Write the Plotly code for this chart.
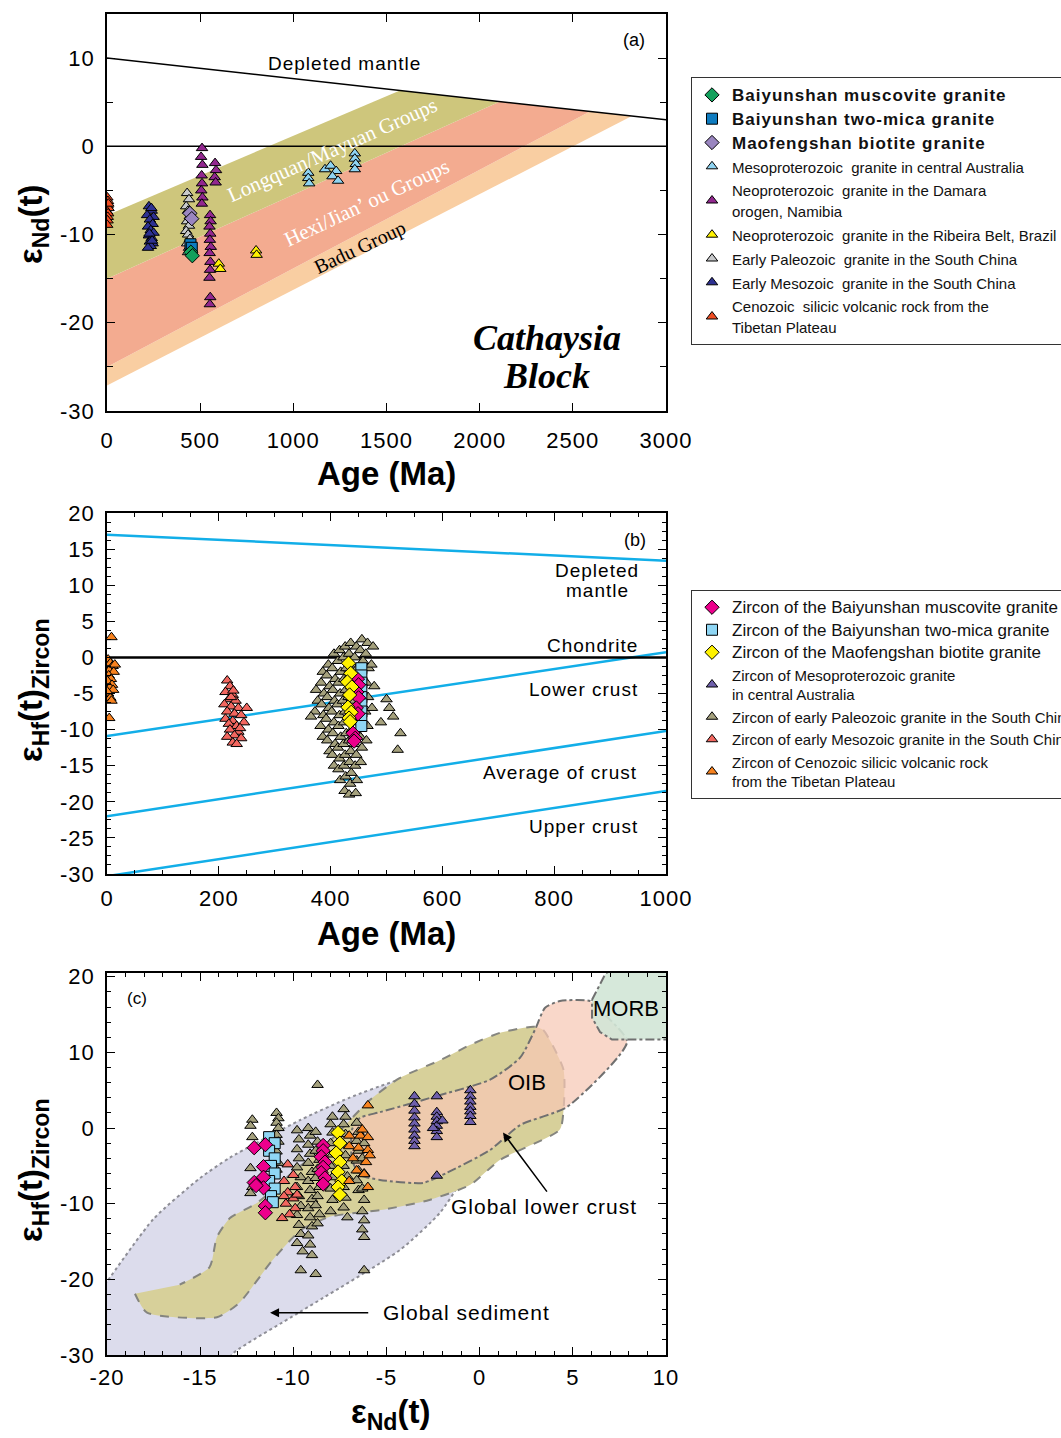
import plotly.graph_objects as go

# ================= Panel (a): eNd(t) vs Age =================
a_dm_age = [0, 3000]
a_dm_eps = [10, 3]
a_chur_age = [0, 3000]
a_chur_eps = [0, 0]
band_lm_age = [0, 1572, 2109, 0]
band_lm_eps = [-7.8, 6.33, 5.08, -15]
band_hj_age = [0, 2109, 2592, 0]
band_hj_eps = [-15, 5.08, 3.95, -25]
band_badu_age = [0, 2592, 2817, 0]
band_badu_eps = [-25, 3.95, 3.43, -27.1]

a_cen_age = [2, 5, 3, 8, 1, 6, 4, 3, 7, 1]
a_cen_eps = [-5.8, -6.2, -6.7, -7.0, -7.4, -7.6, -8.0, -8.4, -6.5, -8.9]
a_meso_age = [225, 240, 215, 250, 230, 245, 220, 235, 250, 225, 240, 230, 245, 235, 220, 238, 228, 242]
a_meso_eps = [-6.8, -7.3, -7.8, -8.0, -8.3, -8.8, -9.1, -9.5, -9.8, -10.1, -10.4, -10.8, -11.0, -11.3, -11.5, -7.0, -9.9, -10.7]
a_paleo_age = [430, 440, 425, 435, 445, 430, 440, 425, 435, 445, 430, 440, 435]
a_paleo_eps = [-5.3, -6.0, -6.8, -7.3, -7.9, -8.5, -9.0, -9.6, -10.0, -10.5, -11.0, -11.5, -12.0]
a_mao_age = [445, 455]
a_mao_eps = [-7.6, -8.2]
a_twomica_age = [448, 455]
a_twomica_eps = [-11.1, -11.5]
a_musc_age = [450, 458]
a_musc_eps = [-12.0, -12.4]
a_damara_age = [510, 505, 512, 508, 510, 506, 512, 509, 580, 585, 578, 583,
                553, 556, 550, 554, 552, 557, 551, 555, 553, 550, 554, 552]
a_damara_eps = [-0.2, -1.2, -2.1, -3.3, -4.2, -5.0, -5.8, -6.5, -1.9, -2.7, -3.5, -4.1,
                -7.8, -8.5, -9.1, -9.9, -10.6, -11.4, -12.1, -13.1, -14.0, -14.9, -17.1, -17.9]
a_ribeira_age = [600, 608, 800, 803]
a_ribeira_eps = [-13.3, -13.9, -11.8, -12.3]
a_mesoprot_age = [1080, 1080, 1085, 1170, 1200, 1230, 1210, 1240, 1330, 1330, 1335, 1330]
a_mesoprot_eps = [-3.0, -3.6, -4.2, -2.6, -2.2, -2.8, -3.4, -3.9, -0.8, -1.4, -2.0, -2.6]

a_xtick_vals = [0, 500, 1000, 1500, 2000, 2500, 3000]
a_xtick_text = ["0", "500", "1000", "1500", "2000", "2500", "3000"]
a_ytick_vals = [-30, -20, -10, 0, 10]
a_ytick_text = ["-30", "-20", "-10", "0", "10"]

# ================= Panel (b): eHf(t) vs Age =================
b_line_age = [0, 1000]
b_dm_eps = [17.0, 13.4]
b_chur_eps = [0, 0]
b_lc_eps = [-10.9, 0.7]
b_avg_eps = [-22.0, -10.2]
b_uc_eps = [-30.3, -18.5]

b_cen_age = [8, 2, 6, 10, 4, 12, 3, 7, 1, 9, 5, 11, 2, 6, 8, 4, 14, 0]
b_cen_eps = [2.8, -0.3, -0.8, -1.2, -1.8, -2.0, -2.5, -3.0, -3.3, -3.8, -4.2, -4.5, -5.0, -5.6, -6.0, -8.4, -1.0, -4.7]
b_meso_age = [215, 220, 212, 225, 218, 230, 210, 222, 235, 215, 228, 240, 212, 225,
              218, 232, 245, 220, 235, 228, 215, 240, 225, 232, 250, 222, 238, 226]
b_meso_eps = [-3.2, -4.0, -4.8, -5.2, -5.8, -6.0, -6.5, -6.8, -7.0, -7.5, -7.8, -8.0, -8.5, -8.8,
              -9.2, -9.5, -9.0, -10.0, -10.3, -10.8, -11.0, -11.2, -11.8, -12.0, -7.0, -5.5, -9.8, -4.6]
b_paleo_age = [
    374, 377, 372,
    386, 383, 388, 384, 387, 382, 386,
    396, 393, 398, 394, 397, 392, 396, 394, 398,
    406, 403, 408, 404, 407, 402, 406, 404, 408, 403, 406,
    416, 413, 418, 414, 417, 412, 416, 414, 418, 413, 416, 414, 417,
    426, 423, 428, 424, 427, 422, 426, 424, 428, 423, 426, 424, 427, 425,
    436, 433, 438, 434, 437, 432, 436, 434, 438, 433, 436, 434, 437, 435, 433,
    446, 443, 448, 444, 447, 442, 446, 444, 448, 443, 446, 444, 447, 445,
    456, 453, 458, 454, 457, 452, 456, 454, 458, 453, 456, 454,
    466, 463, 468, 464, 467, 462, 466, 464,
    476, 473, 478, 474,
    500, 505, 512, 525, 520, 490, 365]
b_paleo_eps = [
    -4.5, -6.0, -7.5,
    -2.0, -3.5, -5.0, -6.5, -8.0, -9.5, -11.0,
    -1.0, -2.5, -4.0, -5.5, -7.0, -8.5, -10.0, -11.5, -13.0,
    0.5, -1.5, -3.0, -4.5, -6.0, -7.5, -9.0, -10.5, -12.0, -13.5, -15.0,
    1.0, -0.5, -2.0, -3.5, -5.0, -6.5, -8.0, -9.5, -11.0, -12.5, -14.0, -15.5, -17.0,
    1.5, 0.0, -1.5, -3.0, -4.5, -6.0, -7.5, -9.0, -10.5, -12.0, -13.5, -15.0, -16.5, -18.5,
    2.0, 0.5, -1.0, -2.5, -4.0, -5.5, -7.0, -8.5, -10.0, -11.5, -13.0, -14.5, -16.0, -17.5, -19.0,
    1.5, 0.0, -1.5, -3.0, -4.5, -6.0, -7.5, -9.0, -10.5, -12.0, -13.5, -15.0, -17.0, -18.8,
    2.5, 1.0, -0.5, -2.0, -3.5, -5.0, -6.5, -8.0, -9.5, -11.0, -12.5, -14.5,
    2.0, 0.5, -1.5, -3.5, -5.5, -7.5, -9.5, -11.5,
    1.5, -1.0, -4.0, -7.0,
    -5.8, -7.0, -8.2, -10.5, -12.8, -9.0, -8.2]
b_twomica_age = [455, 455, 455, 455, 455, 455, 455, 455, 455]
b_twomica_eps = [-1.5, -2.5, -3.5, -4.5, -5.5, -6.5, -7.5, -8.5, -9.5]
b_musc_age = [448, 450, 447, 450, 446, 449, 440, 444, 442]
b_musc_eps = [-3.0, -3.8, -4.8, -5.6, -7.0, -7.8, -10.5, -11.2, -11.6]
b_mao_age = [432, 436, 430, 438, 434, 431, 437, 433, 435]
b_mao_eps = [-0.8, -2.2, -3.4, -4.1, -5.2, -6.9, -7.6, -8.4, -8.9]

b_xtick_vals = [0, 200, 400, 600, 800, 1000]
b_xtick_text = ["0", "200", "400", "600", "800", "1000"]
b_ytick_vals = [-30, -25, -20, -15, -10, -5, 0, 5, 10, 15, 20]
b_ytick_text = ["-30", "-25", "-20", "-15", "-10", "-5", "0", "5", "10", "15", "20"]

# ================= Panel (c): eHf(t) vs eNd(t) =================
sed_nd = [-20.5, -20.0, -17.5, -15.0, -13.4, -9.6, -7.0, -4.8, -3.2, -1.6, -0.95, -0.8,
          -1.16, -2.13, -4.27, -9.64, -13.2, -13.8, -20.5]
sed_hf = [-22.0, -20.3, -12.0, -6.6, -3.9, 1.1, 4.0, 6.0, 7.0, 5.7, 2.4, -2.9,
          -7.5, -11.2, -16.1, -24.3, -29.7, -31.5, -31.5]
lc_nd = [-18.5, -17.85, -14.1, -12.9, -11.1, -9.6, -8.0, -5.2, -2.7, -0.5, 1.1, 4.3, 4.5, 4.5,
         3.4, 2.9, 1.1, -0.5, -2.1, -4.3, -5.9, -8.0, -10.2, -11.95, -13.4, -14.1, -14.5, -16.1]
lc_hf = [-21.9, -24.4, -25.0, -23.1, -17.4, -13.5, -11.7, -10.8, -9.5, -7.5, -4.2, -0.2, 2.4, 7.7,
         13.0, 13.4, 12.6, 11.0, 9.0, 6.6, 3.7, -1.6, -6.2, -9.9, -11.9, -14.4, -18.4, -20.7]
oib_nd = [-6.85, -6.85, -6.42, -5.35, -3.04, -1.75, 0.56, 2.17, 4.69, 7.91, 6.46, 5.92,
          4.31, 3.51, 2.97, 2.17, 0.56, -2.5, -5.35, -6.42, -6.85]
oib_hf = [-0.2, -4.2, -6.2, -6.85, -7.25, -5.9, -2.9, 0.4, 2.8, 11.4, 15.6, 16.8,
          16.8, 15.9, 13.0, 9.3, 6.4, 4.1, 2.1, 1.35, -0.2]
morb_nd = [6.03, 6.73, 7.1, 10.6, 10.6, 7.1, 6.46, 6.03, 6.03]
morb_hf = [16.96, 20.3, 21.2, 21.2, 11.7, 11.7, 12.7, 14.6, 16.96]

c_paleo_nd = [
    -12.2, -12.3, -12.2, -12.3, -12.2, -12.3,
    -10.9, -10.8, -10.9, -10.8, -10.9, -10.8, -10.9, -10.8, -10.9,
    -9.8, -9.7, -9.8, -9.7, -9.8, -9.6, -9.8, -9.7, -9.6, -9.8, -9.7, -9.6, -9.8, -9.5, -9.6,
    -9.2, -9.1, -9.2, -9.1, -9.2, -9.0, -9.2, -9.1, -9.0, -9.2, -9.1, -9.0, -9.2, -9.1, -9.0, -8.8,
    -8.7, -8.8, -8.7, -8.8, -8.6, -8.7, -8.8, -8.6, -8.7, -8.8, -8.6, -8.7,
    -7.9, -8.0, -7.9, -8.0, -7.9, -8.0, -7.9, -8.0, -7.9, -8.0,
    -7.3, -7.2, -7.3, -7.2, -7.3, -7.2, -7.3, -7.1, -7.3, -7.2, -7.3, -7.1,
    -6.6, -6.5, -6.6, -6.5, -6.6, -6.5, -6.6, -6.5,
    -6.2, -6.3, -6.2, -6.3, -6.2, -6.3, -6.2, -6.3, -6.2, -6.2]
c_paleo_hf = [
    1.1, 0.3, -1.2, -5.3, -7.8, -8.6,
    2.0, 1.3, 0.7, 0.0, -0.9, -1.8, -3.1, -4.6, -5.5,
    -0.3, -1.5, -2.8, -4.0, -5.2, -6.5, -7.8, -9.0, -10.3, -11.5, -12.8, -14.0, -15.2, -16.3, -18.8,
    0.0, -1.0, -2.2, -3.4, -4.6, -5.8, -7.0, -8.2, -9.4, -10.6, -11.8, -13.0, -14.2, -15.4, -16.8, -19.3,
    5.7, -0.5, -1.8, -3.0, -4.2, -5.4, -6.6, -7.8, -9.0, -10.2, -11.4, -12.6,
    1.5, 0.5, -0.6, -2.0, -3.5, -5.0, -6.5, -8.0, -9.5, -11.0,
    2.5, 1.5, 0.5, -0.8, -2.2, -3.6, -5.0, -6.4, -7.8, -9.2, -10.5, -11.8,
    0.7, -0.5, -1.7, -3.0, -4.3, -5.6, -6.9, -8.2,
    -2.0, -4.0, -6.0, -8.0, -9.5, -11.0, -12.2, -13.4, -14.4, -18.8]
c_meso_nd = [-10.3, -10.0, -10.5, -9.9, -10.3, -10.0, -10.4, -9.9, -10.2, -10.5, -9.8, -10.6]
c_meso_hf = [-4.8, -6.2, -7.0, -7.8, -8.5, -9.3, -10.0, -10.6, -11.4, -9.0, -8.8, -11.9]
c_twomica_nd = [-11.3, -11.0, -11.3, -11.0, -11.2, -11.0, -11.3, -11.0, -11.2, -11.1]
c_twomica_hf = [-1.2, -2.0, -3.0, -4.0, -5.0, -6.0, -7.0, -8.0, -9.0, -9.8]
c_musc_nd = [-12.1, -11.5, -11.6, -12.1, -11.6, -11.6, -11.5, -11.5, -12.0,
             -8.4, -8.4, -8.5, -8.3, -8.4, -8.5, -8.3, -8.4]
c_musc_hf = [-2.6, -2.2, -5.1, -7.2, -6.5, -7.9, -10.3, -11.2, -7.6,
             -2.3, -3.0, -3.8, -4.5, -5.2, -5.9, -6.6, -7.4]
c_mao_nd = [-7.6, -7.5, -7.7, -7.5, -7.6, -7.4, -7.6, -7.5]
c_mao_hf = [-0.6, -2.0, -3.3, -4.5, -5.8, -7.0, -7.8, -8.8]
c_cen_nd = [-6.0, -7.0, -6.4, -6.0, -7.0, -6.5, -6.0, -6.8, -6.1, -6.6, -6.2, -6.0, -7.0, -5.9, -6.3]
c_cen_hf = [3.0, -1.0, -1.0, -1.2, -2.4, -2.6, -2.9, -4.0, -4.5, -5.6, -6.1, -7.8, -7.0, -3.6, -0.2]
c_aus_nd = [-3.5, -3.5, -3.5, -3.5, -3.5, -3.5, -3.5, -3.5, -3.5,
            -2.3, -2.3, -2.3, -2.3, -2.3, -2.3, -2.3, -2.0, -2.5,
            -0.5, -0.5, -0.5, -0.5, -0.5, -0.5, -0.5, -2.3]
c_aus_hf = [4.2, 3.2, 2.3, 1.4, 0.6, -0.2, -1.0, -1.7, -2.4,
            4.2, 2.1, 1.5, 0.9, 0.3, -0.4, -1.2, 1.0, 0.0,
            5.0, 4.2, 3.5, 2.8, 2.2, 1.6, 0.8, -6.3]

c_xtick_vals = [-20, -15, -10, -5, 0, 5, 10]
c_xtick_text = ["-20", "-15", "-10", "-5", "0", "5", "10"]
c_ytick_vals = [-30, -20, -10, 0, 10, 20]
c_ytick_text = ["-30", "-20", "-10", "0", "10", "20"]

# ---------------- styling constants ----------------
FONT = "Liberation Sans, Arial, sans-serif"
SERIF = "Liberation Serif, Times New Roman, serif"
LS = "letter-spacing:1px"

fig = go.Figure()


def pts(x, y, xa, ya, symbol, color, size, name=None, legend=None, rank=None):
    fig.add_trace(go.Scatter(
        x=x, y=y, xaxis=xa, yaxis=ya, mode="markers",
        marker=dict(symbol=symbol, color=color, size=size,
                    line=dict(color="black", width=1)),
        name=name or "", showlegend=name is not None,
        legend=legend or "legend", legendrank=rank if rank else 1000,
        hoverinfo="skip"))


def poly(x, y, xa, ya, fill, lcolor=None, dash="solid", lw=0, shape="linear"):
    fig.add_trace(go.Scatter(
        x=x, y=y, xaxis=xa, yaxis=ya, mode="lines", fill="toself",
        fillcolor=fill, line=dict(color=lcolor or fill, width=lw, dash=dash, shape=shape,
                                  smoothing=0.6),
        showlegend=False, hoverinfo="skip"))


def line(x, y, xa, ya, color, width):
    fig.add_trace(go.Scatter(x=x, y=y, xaxis=xa, yaxis=ya, mode="lines",
                             line=dict(color=color, width=width),
                             showlegend=False, hoverinfo="skip"))


# ----- panel (a) -----
poly(band_badu_age, band_badu_eps, "x", "y", "#f9cea2")
poly(band_hj_age, band_hj_eps, "x", "y", "#f3ab90")
poly(band_lm_age, band_lm_eps, "x", "y", "#cec67c")
line(a_dm_age, a_dm_eps, "x", "y", "black", 1.5)
line(a_chur_age, a_chur_eps, "x", "y", "black", 1.5)

LEGA_SMALL = '<span style="font-size:15px">%s</span>'
LEGA_BOLD = '<b><span style="font-size:17px;%s">%s</span></b>'
pts(a_cen_age, a_cen_eps, "x", "y", "triangle-up", "#f04e23", 10,
    LEGA_SMALL % "Cenozoic  silicic volcanic rock from the<br>Tibetan Plateau", "legend", 9)
pts(a_meso_age, a_meso_eps, "x", "y", "triangle-up", "#2e3192", 10,
    LEGA_SMALL % "Early Mesozoic  granite in the South China", "legend", 8)
pts(a_paleo_age, a_paleo_eps, "x", "y", "triangle-up", "#c8c9cb", 10,
    LEGA_SMALL % "Early Paleozoic  granite in the South China", "legend", 7)
pts(a_damara_age, a_damara_eps, "x", "y", "triangle-up", "#92278f", 10,
    LEGA_SMALL % "Neoproterozoic  granite in the Damara<br>orogen, Namibia", "legend", 5)
pts(a_ribeira_age, a_ribeira_eps, "x", "y", "triangle-up", "#fff200", 10,
    LEGA_SMALL % "Neoproterozoic  granite in the Ribeira Belt, Brazil", "legend", 6)
pts(a_mesoprot_age, a_mesoprot_eps, "x", "y", "triangle-up", "#8fd4f2", 10,
    LEGA_SMALL % "Mesoproterozoic  granite in central Australia", "legend", 4)
pts(a_mao_age, a_mao_eps, "x", "y", "diamond", "#9a86c0", 11,
    LEGA_BOLD % (LS, "Maofengshan biotite granite"), "legend", 3)
pts(a_twomica_age, a_twomica_eps, "x", "y", "square", "#0f7cc0", 11,
    LEGA_BOLD % (LS, "Baiyunshan two-mica granite"), "legend", 2)
pts(a_musc_age, a_musc_eps, "x", "y", "diamond", "#13a05c", 11,
    LEGA_BOLD % (LS, "Baiyunshan muscovite granite"), "legend", 1)

# ----- panel (b) -----
BLUE = "#12aee8"
line(b_line_age, b_dm_eps, "x2", "y2", BLUE, 2.5)
line(b_line_age, b_lc_eps, "x2", "y2", BLUE, 2.5)
line(b_line_age, b_avg_eps, "x2", "y2", BLUE, 2.5)
line(b_line_age, b_uc_eps, "x2", "y2", BLUE, 2.5)
line(b_line_age, b_chur_eps, "x2", "y2", "black", 2.5)
pts(b_cen_age, b_cen_eps, "x2", "y2", "triangle-up", "#f7821f", 10)
pts(b_meso_age, b_meso_eps, "x2", "y2", "triangle-up", "#f2665f", 10)
pts(b_paleo_age, b_paleo_eps, "x2", "y2", "triangle-up", "#a5a17d", 10)
pts(b_twomica_age, b_twomica_eps, "x2", "y2", "square", "#8fd6f4", 11)
pts(b_musc_age, b_musc_eps, "x2", "y2", "diamond", "#ec008c", 11)
pts(b_mao_age, b_mao_eps, "x2", "y2", "diamond", "#fff200", 11)

# ----- panel (c) -----
poly(sed_nd, sed_hf, "x3", "y3", "#dcdcec", "#8e8e96", "dot", 2, "spline")
poly(lc_nd, lc_hf, "x3", "y3", "#d7d09a", "#85857f", "dash", 2, "spline")
poly(oib_nd, oib_hf, "x3", "y3", "rgba(247,200,180,0.72)", "#707070", "dashdot", 2, "spline")
poly(morb_nd, morb_hf, "x3", "y3", "rgba(210,230,214,0.9)", "#707070", "dashdot", 2, "linear")

LEGB_BIG = '<span style="font-size:17px">%s</span>'
pts(c_paleo_nd, c_paleo_hf, "x3", "y3", "triangle-up", "#a5a17d", 10,
    "Zircon of early Paleozoic granite in the South China", "legend2", 5)
pts(c_meso_nd, c_meso_hf, "x3", "y3", "triangle-up", "#f2665f", 10,
    "Zircon of early Mesozoic granite in the South China", "legend2", 6)
pts(c_twomica_nd, c_twomica_hf, "x3", "y3", "square", "#8fd6f4", 11,
    LEGB_BIG % "Zircon of the Baiyunshan two-mica granite", "legend2", 2)
pts(c_musc_nd, c_musc_hf, "x3", "y3", "diamond", "#ec008c", 11,
    LEGB_BIG % "Zircon of the Baiyunshan muscovite granite", "legend2", 1)
pts(c_mao_nd, c_mao_hf, "x3", "y3", "diamond", "#fff200", 11,
    LEGB_BIG % "Zircon of the Maofengshan biotite granite", "legend2", 3)
pts(c_cen_nd, c_cen_hf, "x3", "y3", "triangle-up", "#f7821f", 10,
    "Zircon of Cenozoic silicic volcanic rock<br>from the Tibetan Plateau", "legend2", 7)
pts(c_aus_nd, c_aus_hf, "x3", "y3", "triangle-up", "#6e5fab", 10,
    "Zircon of Mesoproterozoic granite<br>in central Australia", "legend2", 4)

# ---------------- layout ----------------
W, H = 1061, 1438
ML, MR, MT, MB = 107, 395, 14, 83
PH = H - MT - MB


def py(pix):
    return 1 - (pix - MT) / PH


def px(pix):
    return (pix - ML) / (W - ML - MR)


def lab(t):
    return ['<span style="letter-spacing:1px">%s</span>' % s for s in t]


axis_common = dict(showline=True, linecolor="black", linewidth=1.5, mirror="allticks",
                   ticks="inside", ticklen=8, tickwidth=1.3, tickcolor="black",
                   showgrid=False, zeroline=False, tickmode="array",
                   tickfont=dict(family=FONT, size=22, color="black"))


def minor(d, ln=4):
    return dict(tickmode="linear", tick0=0, dtick=d, ticks="inside", ticklen=ln, tickwidth=1.1,
                tickcolor="black", showgrid=False)


layout = dict(
    width=W, height=H, paper_bgcolor="white", plot_bgcolor="white",
    margin=dict(l=ML, r=MR, t=MT, b=MB, autoexpand=False),
    font=dict(family=FONT, color="black"),
    xaxis=dict(axis_common, domain=[0, 1], anchor="y", range=[0, 3000],
               tickvals=a_xtick_vals, ticktext=lab(a_xtick_text), ticklabelstandoff=9),
    yaxis=dict(axis_common, domain=[py(411), 1], anchor="x", range=[-30, 15],
               tickvals=a_ytick_vals, ticktext=lab(a_ytick_text),
               minor=minor(5, 6), ticklabelstandoff=6),
    xaxis2=dict(axis_common, domain=[0, 1], anchor="y2", range=[0, 1000],
                tickvals=b_xtick_vals, ticktext=lab(b_xtick_text),
                minor=minor(50), ticklabelstandoff=4),
    yaxis2=dict(axis_common, domain=[py(874), py(513)], anchor="x2", range=[-30, 20],
                tickvals=b_ytick_vals, ticktext=lab(b_ytick_text),
                minor=minor(1.25), ticklabelstandoff=6),
    xaxis3=dict(axis_common, domain=[0, 1], anchor="y3", range=[-20, 10],
                tickvals=c_xtick_vals, ticktext=lab(c_xtick_text),
                minor=minor(1), ticklabelstandoff=2),
    yaxis3=dict(axis_common, domain=[0, py(973)], anchor="x3", range=[-30, 20.5],
                tickvals=c_ytick_vals, ticktext=lab(c_ytick_text),
                minor=minor(2), ticklabelstandoff=6),
    legend=dict(x=px(691), y=py(77), xanchor="left", yanchor="top", bgcolor="white",
                bordercolor="#333", borderwidth=1, font=dict(family=FONT, size=16, color="#111"),
                traceorder="normal", itemwidth=30, tracegroupgap=0),
    legend2=dict(x=px(691), y=py(590), xanchor="left", yanchor="top", bgcolor="white",
                 bordercolor="#333", borderwidth=1, font=dict(family=FONT, size=15, color="#111"),
                 traceorder="normal", itemwidth=30, tracegroupgap=0),
)
fig.update_layout(**layout)

ann = []


def txt(x, y, text, xref, yref, size=20, family=FONT, color="black", angle=0):
    ann.append(dict(x=x, y=y, xref=xref, yref=yref, text=text, showarrow=False,
                    xanchor="center", yanchor="middle",
                    textangle=angle, font=dict(family=family, size=size, color=color)))


sp = lambda s: '<span style="letter-spacing:1px">%s</span>' % s

# panel (a) texts
txt(1272, 9.4, sp("Depleted mantle"), "x", "y", 19)
txt(2828, 12.0, "(a)", "x", "y", 18)
txt(1208, -0.45, "Longquan/Mayuan Groups", "x", "y", 21, SERIF, "white", -24)
txt(1390, -6.4, "Hexi/Jian\u2019 ou Groups", "x", "y", 21, SERIF, "white", -25)
txt(1358, -11.5, "Badu Group", "x", "y", 20, SERIF, "black", -25)
txt(2361, -21.7, "<b><i>Cathaysia</i></b>", "x", "y", 36, SERIF)
txt(2361, -26.0, "<b><i>Block</i></b>", "x", "y", 36, SERIF)

# panel (b) texts
txt(877, 12.0, sp("Depleted"), "x2", "y2", 19)
txt(877, 9.3, sp("mantle"), "x2", "y2", 19)
txt(945, 16.3, "(b)", "x2", "y2", 18)
txt(868, 1.6, sp("Chondrite"), "x2", "y2", 19)
txt(853, -4.5, sp("Lower crust"), "x2", "y2", 19)
txt(810, -15.9, sp("Average of crust"), "x2", "y2", 19)
txt(853, -23.4, sp("Upper crust"), "x2", "y2", 19)

# panel (c) texts
txt(-18.4, 17.1, "(c)", "x3", "y3", 17)
txt(2.54, 6.0, "OIB", "x3", "y3", 22)
txt(7.85, 15.8, "MORB", "x3", "y3", 22)
txt(3.45, -10.4, sp("Global lower crust"), "x3", "y3", 21)
txt(-0.73, -24.4, sp("Global sediment"), "x3", "y3", 21)
ann.append(dict(x=1.25, y=-0.6, xref="x3", yref="y3", ax=3.67, ay=-8.6, axref="x3", ayref="y3",
                text="", showarrow=True, arrowhead=2, arrowsize=1.2, arrowwidth=1.5,
                arrowcolor="black"))
ann.append(dict(x=-11.25, y=-24.4, xref="x3", yref="y3", ax=-5.9, ay=-24.4, axref="x3",
                ayref="y3", text="", showarrow=True, arrowhead=2, arrowsize=1.2, arrowwidth=1.5,
                arrowcolor="black"))

# axis titles
TSZ = 33
txt(px(386), py(474), "<b>Age (Ma)</b>", "paper", "paper", TSZ)
txt(px(386), py(933), "<b>Age (Ma)</b>", "paper", "paper", TSZ)
txt(px(390), py(1414), "<b>\u03b5<sub>Nd</sub>(t)</b>", "paper", "paper", TSZ)
txt(px(33), py(225), "<b>\u03b5<sub>Nd</sub>(t)</b>", "paper", "paper", TSZ, angle=-90)
txt(px(33), py(690), "<b>\u03b5<sub>Hf</sub>(t)<sub>Zircon</sub></b>", "paper", "paper", TSZ, angle=-90)
txt(px(33), py(1170), "<b>\u03b5<sub>Hf</sub>(t)<sub>Zircon</sub></b>", "paper", "paper", TSZ, angle=-90)

fig.update_layout(annotations=ann)
fig.write_html("out.html", config={"displayModeBar": False},
               post_script="document.body.style.margin='0px';")
